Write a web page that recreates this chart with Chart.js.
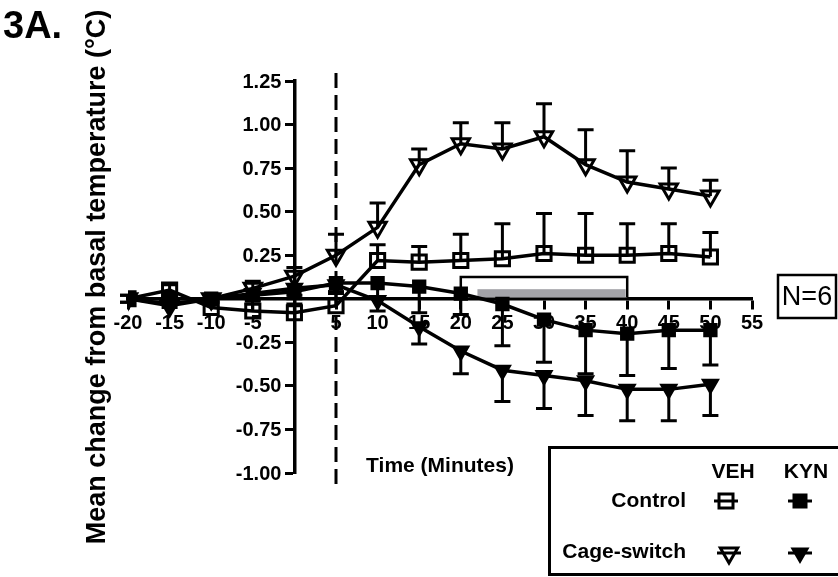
<!DOCTYPE html>
<html>
<head>
<meta charset="utf-8">
<script src="https://cdn.jsdelivr.net/npm/chart.js@4/dist/chart.umd.min.js"></script>
<style>
body { margin: 0; background: #fff; }
</style>
</head>
<body>
<canvas id="chart" width="838" height="577"></canvas>
<script>
// time points (minutes)
const times = [-20, -15, -10, -5, 0, 5, 10, 15, 20, 25, 30, 35, 40, 45, 50];

// mean change from basal temperature, with SEM
const controlVeh    = [0.00, 0.05, -0.05, -0.07, -0.08, -0.04, 0.22, 0.21, 0.22, 0.23, 0.26, 0.25, 0.25, 0.26, 0.24];
const controlVehErr = [0.02, 0.03, 0.03, 0.04, 0.05, 0.08, 0.09, 0.09, 0.15, 0.20, 0.23, 0.24, 0.18, 0.17, 0.14];
const cageVeh       = [0.00, -0.04, 0.00, 0.06, 0.13, 0.25, 0.41, 0.77, 0.89, 0.86, 0.93, 0.77, 0.67, 0.63, 0.59];
const cageVehErr    = [0.02, 0.03, 0.02, 0.04, 0.05, 0.12, 0.14, 0.09, 0.12, 0.15, 0.19, 0.20, 0.18, 0.12, 0.09];
const controlKyn    = [0.00, 0.00, 0.00, 0.02, 0.04, 0.09, 0.09, 0.07, 0.03, -0.03, -0.12, -0.18, -0.20, -0.18, -0.18];
const controlKynErr = [0.02, 0.02, 0.02, 0.03, 0.04, 0.05, 0.08, 0.15, 0.12, 0.24, 0.245, 0.25, 0.24, 0.22, 0.20];
const cageKyn       = [0.00, -0.03, 0.00, 0.03, 0.06, 0.08, -0.01, -0.16, -0.30, -0.41, -0.44, -0.47, -0.52, -0.52, -0.49];
const cageKynErr    = [0.02, 0.02, 0.02, 0.03, 0.04, 0.05, 0.06, 0.10, 0.13, 0.18, 0.19, 0.20, 0.18, 0.18, 0.18];

// axis ticks
const xTickValues = [-20, -15, -10, -5, 5, 10, 15, 20, 25, 30, 35, 40, 45, 50, 55];
const yTickValues = [-1.00, -0.75, -0.50, -0.25, 0.25, 0.50, 0.75, 1.00, 1.25];

// marks on the graph
const injectionTime = 5;
const openBar = [20, 40, 0.125];   // from, to, height
const greyBar = [22, 40, 0.055];

const FONT = 'Liberation Sans, Arial, sans-serif';
Chart.defaults.font.family = FONT;
Chart.defaults.color = '#000';

function pts(ys) {
    return times.map((t, i) => ({ x: t, y: ys[i] }));
}

function series(label, ys, err, dir, style, filled, r) {
    return {
        label: label,
        data: pts(ys),
        err: err,
        errDir: dir,
        borderColor: '#000',
        borderWidth: 3.5,
        pointStyle: style,
        pointRotation: style === 'triangle' ? 180 : 0,
        pointRadius: r,
        pointBorderWidth: 3,
        pointBorderColor: '#000',
        pointBackgroundColor: filled ? '#000' : 'rgba(0,0,0,0)',
        tension: 0
    };
}

// boxes and dashed line
const marks = {
    id: 'marks',
    beforeDatasetsDraw(chart) {
        const ctx = chart.ctx, xs = chart.scales.x, ys = chart.scales.y;
        const base = ys.getPixelForValue(0) - 1.5;
        ctx.save();
        // open box
        let x1 = xs.getPixelForValue(openBar[0]), x2 = xs.getPixelForValue(openBar[1]);
        let top = ys.getPixelForValue(openBar[2]);
        ctx.fillStyle = '#fff';
        ctx.fillRect(x1, top, x2 - x1, base - top);
        ctx.strokeStyle = '#000';
        ctx.lineWidth = 2.5;
        ctx.beginPath();
        ctx.moveTo(x1, base); ctx.lineTo(x1, top); ctx.lineTo(x2, top); ctx.lineTo(x2, base);
        ctx.stroke();
        // grey bar
        x1 = xs.getPixelForValue(greyBar[0]); x2 = xs.getPixelForValue(greyBar[1]);
        top = ys.getPixelForValue(greyBar[2]);
        ctx.fillStyle = '#a3a3a8';
        ctx.fillRect(x1, top, x2 - x1 - 1.5, base - top);
        // dashed line
        const dx = xs.getPixelForValue(injectionTime);
        ctx.setLineDash([15, 7]);
        ctx.lineWidth = 3;
        ctx.beginPath();
        ctx.moveTo(dx, chart.chartArea.top - 8);
        ctx.lineTo(dx, chart.chartArea.bottom + 17);
        ctx.stroke();
        ctx.restore();

        // y tick labels, left of the y axis
        const ax = xs.getPixelForValue(0);
        ctx.save();
        ctx.fillStyle = '#000';
        ctx.font = 'bold 20px ' + FONT;
        ctx.textAlign = 'right';
        ctx.textBaseline = 'middle';
        ys.ticks.forEach(t => {
            ctx.fillText(t.value.toFixed(2), ax - 13, ys.getPixelForValue(t.value) + 1);
        });
        ctx.restore();
    }
};

// one-sided SEM bars
const errorBars = {
    id: 'errorBars',
    beforeDatasetsDraw(chart) {
        const ctx = chart.ctx, xs = chart.scales.x, ys = chart.scales.y;
        ctx.save();
        ctx.strokeStyle = '#000';
        ctx.lineWidth = 3;
        chart.data.datasets.forEach(ds => {
            ds.data.forEach((p, i) => {
                const px = xs.getPixelForValue(p.x);
                const py = ys.getPixelForValue(p.y);
                const pe = ys.getPixelForValue(p.y + ds.errDir * ds.err[i]);
                ctx.beginPath();
                ctx.moveTo(px, py); ctx.lineTo(px, pe);
                ctx.moveTo(px - 8, pe); ctx.lineTo(px + 8, pe);
                ctx.stroke();
            });
        });
        ctx.restore();
    }
};

function marker(ctx, x, y, style, filled) {
    ctx.save();
    ctx.lineWidth = 3;
    ctx.strokeStyle = '#000';
    ctx.fillStyle = '#000';
    ctx.beginPath();
    ctx.moveTo(x - 12, y); ctx.lineTo(x + 12, y);
    ctx.stroke();
    ctx.beginPath();
    if (style === 'rect') {
        const s = filled ? 6 : 7;
        ctx.rect(x - s, y - s, 2 * s, 2 * s);
    } else {
        const r = filled ? 8 : 10;
        ctx.moveTo(x, y + r);
        ctx.lineTo(x - r * 0.866, y - r / 2);
        ctx.lineTo(x + r * 0.866, y - r / 2);
        ctx.closePath();
    }
    if (filled) ctx.fill();
    ctx.stroke();
    ctx.restore();
}

// titles, legend, N box
const texts = {
    id: 'texts',
    afterDraw(chart) {
        const ctx = chart.ctx;
        ctx.save();
        ctx.fillStyle = '#000';
        ctx.textBaseline = 'alphabetic';
        ctx.font = 'bold 38px ' + FONT;
        ctx.fillText('3A.', 3, 38);

        ctx.save();
        ctx.translate(105, 277);
        ctx.rotate(-Math.PI / 2);
        ctx.textAlign = 'center';
        ctx.font = 'bold 27px ' + FONT;
        ctx.fillText('Mean change from basal temperature (°C)', 0, 0);
        ctx.restore();

        ctx.textBaseline = 'middle';
        ctx.textAlign = 'center';
        ctx.font = 'bold 21px ' + FONT;
        ctx.fillText('Time (Minutes)', 440, 466);

        // N box
        ctx.lineWidth = 2.5;
        ctx.strokeStyle = '#000';
        ctx.strokeRect(778, 275, 58, 43);
        ctx.font = '27px ' + FONT;
        ctx.fillText('N=6', 807, 298);

        // legend
        ctx.lineWidth = 3;
        ctx.strokeRect(549.5, 447.5, 300, 127);
        ctx.font = 'bold 21px ' + FONT;
        ctx.fillText('VEH', 733, 472);
        ctx.fillText('KYN', 806, 472);
        ctx.textAlign = 'right';
        ctx.fillText('Control', 686, 501);
        ctx.fillText('Cage-switch', 686, 552);
        ctx.restore();

        marker(ctx, 726, 501, 'rect', false);
        marker(ctx, 800, 501, 'rect', true);
        marker(ctx, 729, 553, 'triangle', false);
        marker(ctx, 800, 553, 'triangle', true);
    }
};

const ctx = document.getElementById('chart').getContext('2d');
const chart = new Chart(ctx, {
    type: 'line',
    data: {
        datasets: [
            series('Control VEH', controlVeh, controlVehErr, 1, 'rect', false, 10),
            series('Cage-switch VEH', cageVeh, cageVehErr, 1, 'triangle', false, 10),
            series('Control KYN', controlKyn, controlKynErr, -1, 'rect', true, 8),
            series('Cage-switch KYN', cageKyn, cageKynErr, -1, 'triangle', true, 8)
        ]
    },
    options: {
        responsive: false,
        animation: false,
        devicePixelRatio: 1,
        layout: { padding: { left: 128, right: 86, top: 81, bottom: 104 } },
        plugins: { legend: { display: false }, tooltip: { enabled: false } },
        scales: {
            x: {
                type: 'linear',
                position: { y: 0 },
                min: -20,
                max: 55,
                afterBuildTicks: s => { s.ticks = xTickValues.map(v => ({ value: v })); },
                ticks: { font: { size: 20, weight: 'bold' }, padding: 4, maxRotation: 0, autoSkip: false },
                grid: { drawOnChartArea: false, tickLength: 9, tickWidth: 3, tickColor: '#000' },
                border: { color: '#000', width: 3.5 }
            },
            y: {
                type: 'linear',
                position: { x: 0 },
                min: -1,
                max: 1.25,
                afterBuildTicks: s => { s.ticks = yTickValues.map(v => ({ value: v })); },
                ticks: { display: false },
                grid: { drawOnChartArea: false, tickLength: 8, tickWidth: 3, tickColor: '#000' },
                border: { color: '#000', width: 3.5 }
            }
        }
    },
    plugins: [marks, errorBars, texts]
});
</script>
</body>
</html>
